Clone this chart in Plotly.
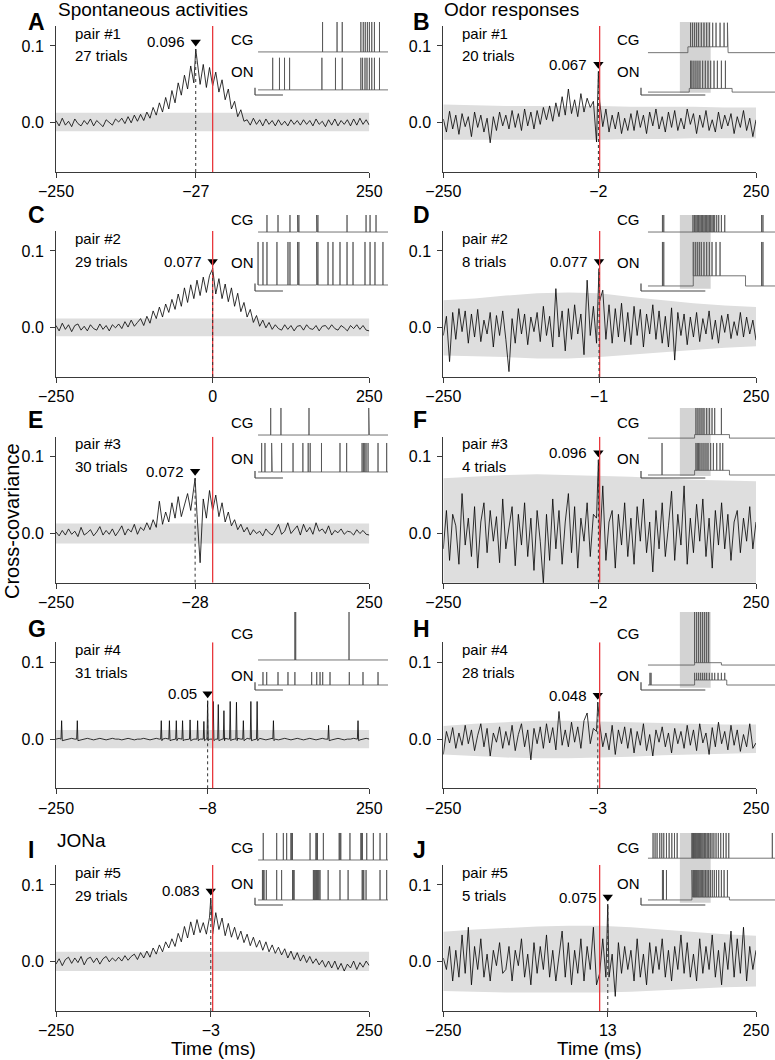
import plotly.graph_objects as go

W, H = 775, 1060
FONT = "Liberation Sans, Arial, Helvetica, sans-serif"

# ---------------- data ----------------
LAGS = list(range(-250, 251, 5))          # lag grid (ms)
BAND_LAGS = [-250, -200, -150, -100, -50, 0, 50, 100, 150, 200, 250]

LETTERS = ["A", "B", "C", "D", "E", "F", "G", "H", "I", "J"]
PAIRS = ["pair #1", "pair #1", "pair #2", "pair #2", "pair #3", "pair #3",
         "pair #4", "pair #4", "pair #5", "pair #5"]
TRIALS = ["27 trials", "20 trials", "29 trials", "8 trials", "30 trials",
          "4 trials", "31 trials", "28 trials", "29 trials", "5 trials"]
PEAK_LAG = [-27, -2, 0, -1, -28, -2, -8, -3, -3, 13]
PEAK_VAL = [0.096, 0.067, 0.077, 0.077, 0.072, 0.096, 0.05, 0.048, 0.083, 0.075]
PEAK_TXT = ["0.096", "0.067", "0.077", "0.077", "0.072", "0.096", "0.05", "0.048", "0.083", "0.075"]

# cross-covariance values (x 0.001) on LAGS
CC_A = [3, -4, 6, -3, 2, -5, 5, -1, -4, 3, -2, 5, -4, 3, -1, -5, 4, 0, -3, 5,
        1, 6, -1, 8, 0, 10, 2, 11, 3, 14,
        6, 20, 10, 26, 14, 33, 18, 42, 26, 52,
        36, 62, 44, 74, 52,
        82, 50, 76, 46, 72, 48,
        66, 40, 56, 30, 44, 18, 28, 8, 17, 2,
        4, -3, 6, -2, 4, -4, 5, -2, 3, -4, 4, -3, 2, -4, 4, -2, 3, -3, 4, -2,
        3, -4, 5, -2, 2, -5, 4, -3, 5, -4, 3, -2, 4, -4, 5, -3, 6, -2, 4, -3]
CC_B = [5, -12, 15, -8, 10, -15, 12, -5, 8, -18, 14, -6, 10, -12, 6, -26, 8, -10, 14, -4,
        10, -8, 16, -6, 12, -10, 18, -4, 14, -8,
        16, -2, 20, 4, 22, 2, 26, 8, 34, 10,
        44, 12, 30, 8, 38, 14, 32, 20, 28, -25,
        28, -5, 18, -12, 10, -8, 14, -14, 6, -10,
        12, -10, 16, -6, 10, -14, 14, -4, 18, -8, 8, -12, 14, -6, 16, -10, 6, -8, 18, -2,
        12, -14, 10, -6, 16, -10, 4, -12, 14, -8, 10, -4, 12, -14, 8, -6, 16, -10, 6, -18, 4]
CC_C = [3, -4, 6, -2, 4, -5, 3, 5, -3, 2, -4, 4, -1, -3, 5, -2, 3, -4, 4, 0,
        5, -1, 8, 1, 10, 2, 7, 12, 3, 15,
        6, 22, 12, 27, 14, 31, 20, 37, 24, 44,
        28, 52, 33, 56, 38, 62, 42, 66, 46, 68,
        77,
        44, 64, 38, 57, 34, 52, 28, 45, 21, 33,
        14, 24, 7, 16, 2, 10, 0, 7, -2, 4,
        -1, -3, 4, -2, 3, -4, 2, 3, -3, 4, -1, -2, 3, -4, 2, 3, -2, 4, -1, -3,
        3, 0, -4, 3, -1, 4, -2, 3, -3, -4]
CC_D = [-10, 15, -44, 20, -15, 25, -5, 22, -20, 18, -12, 24, -18, 10, -8, 20, -25, 16, -10, 22,
        -15, -57, 12, -20, 25, -8, 18, -22, 14, -5,
        20, -18, 28, -10, 15, -25, 51, -12, 22, -30,
        25, -15, 30, -8, 18, -35, 62, -10, 28, -20,
        35, 49, -15, 30, -20, 25, -12, 32, -18, 20,
        -22, 28, -10, 24, -25, 18, -8, 30, -15, 22,
        -20, 15, -25, 26, -42, 20, -10, 18, -22, 14,
        -12, 20, -18, 12, -8, 22, -15, 10, -20, 16, -6, 18, -14, 8, -10, 20, -12, 14, -8, 10, -16]
CC_E = [2, -3, 4, -2, 6, -1, 3, -4, 8, -2, 1, 5, -3, 2, 9, -2, 4, -1, 6, -3,
        3, 10, -2, 6, 2, 12, -1, 8, 4, 14,
        5, 18, 8, 42, 12, 28, 15, 40, 20, 48,
        22, 38, 52, 30, 66, 25, -38, 45, 20, 56,
        30, 50, 22, 40, 15, 28, 10, 18, 5, 12,
        2, 8, -2, 5, 0, 3, -3, 6, 1, -2, 4, 12, -1, 3, 14, 0, 5, 10, -2, 12,
        2, 8, -1, 14, 3, 6, 0, 10, -2, 4, 1, 6, -1, 3, 2, -2, 5, 0, 4, -1, -2]
CC_F = [-20, 30, -35, 25, 10, -40, 52, -15, 20, -30, 35, -45, 15, 40, -25, 30, -10, 22, -38, 45,
        -20, 10, 35, -42, 25, -15, 40, -30, 20, -48,
        30, -10, -65, 25, -35, 45, -20, 30, -40, 15,
        52, -25, 35, -45, 20, -10, 40, -30, 25, 20,
        -20, 62, -35, 15, 30, -45, 25, -15, 40, -30,
        20, -40, 35, -10, 45, -25, 15, -50, 30, -20,
        40, -30, 10, 55, -35, 25, -15, 62, -40, 20,
        -25, 38, -10, 45, -30, 20, -45, 30, -15, 40, -20, 25, -35, 15, 30, -25, 20, -10, 35, -20, 15]
# panel G: near-flat baseline on LAGS plus sharp peaks listed separately
CC_G = [0, 1, 0, -1, 0, 1, 0, 0, -1, 0, 1, 0, -1, 0, 1, 0, -1, 0, 1, 0,
        0, -1, 0, 1, 0, -1, 0, 0, 1, 0,
        -1, 0, 1, 0, 0, 1, 0, -1, 0, 1,
        0, -1, 0, 1, 0, -1, 0, 1, 0, 0,
        1, 0, -1, 0, 1, 0, -1, 0, 1, 0,
        0, 1, 0, -1, 0, 1, 0, -1, 0, 1,
        0, -1, 0, 1, 0, -1, 0, 1, 0, -1,
        0, 1, 0, -1, 0, 1, 0, 0, -1, 0, 1, 0, -1, 0, 0, 1, 0, -1, 0, 1, 0]
G_PEAK_LAGS = [-241, -216, -82, -69, -58, -48, -36, -24, -14, 1, 9, 18, 28, 38, 49, 61, 71, 97, 185, 232]
G_PEAK_VALS = [24, 24, 24, 24, 24, 24, 25, 24, 23, 49, 45, 37, 49, 48, 24, 49, 49, 24, 18, 24]
CC_H = [-20, 10, -5, 15, -12, 8, -8, 18, -6, 12, -15, 5, 20, -10, 14, -22, 8, -4, 16, -12,
        10, -8, 18, -15, 6, 20, -10, 12, -27, 14,
        -6, 16, -12, 20, -5, 15, -14, 36, -8, 12,
        -10, 22, -4, 16, -12, 24, 34, -6, 14, 10,
        20, -10, 8, -14, 18, -20, 12, -6, 16, -12,
        14, -18, 10, -8, 20, -15, 6, -22, 12, -4,
        16, -10, 8, -18, 14, -6, 10, -12, 18, -8,
        12, -15, 20, -5, 8, -20, 15, -10, 22, -6, 10, -14, 18, -8, 12, -16, 6, -10, 20, -12, -5]
CC_I = [-3, 4, -5, 3, 6, -2, 5, -1, 7, -4, 4, 6, -1, 5, -3, 4, 7, 0, 5, 1,
        6, 1, 8, 2, 7, 10, 3, 12, 5, 14,
        6, 18, 10, 22, 13, 26, 18, 30, 20, 37,
        26, 46, 31, 52, 35, 55, 38, 51, 36, 58,
        36, 64, 42, 57, 34, 50, 32, 45, 29, 40,
        25, 36, 21, 32, 19, 28, 15, 26, 13, 22,
        11, 19, 9, 17, 5, 14, 3, 12, 1, 9,
        -1, 7, -2, 4, -4, 2, -7, 1, -8, 1, -10, -2, -12, -3, -8, 1, -10, -1, -7, 1, -5]
CC_J = [5, -10, 20, -25, 15, -20, 35, -15, 45, -30, 20, -10, 30, -20, 10, -25, 15, -5, 25, -15,
        -10, 20, -25, 15, -5, 30, -20, 10, -30, 25,
        -15, 20, -10, 35, -20, 15, -25, 10, 40, -20,
        25, -30, 15, -15, 30, -25, 20, -10, 45, -30,
        -15, 30, -20,
        -20, 10, -45, 25, -15, 20, -10,
        15, -25, 30, -20, 10, -30, 25, -15, 20, -10,
        30, -20, 15, -25, 20, -10, 35, -15, 25, -20,
        10, -25, 30, -15, 20, -10, 35, -20, 15, -30, 25, -10, 40, -20, 30, -15, 45, -25, 20, -10, 15]

# shuffle band (x 0.001) on BAND_LAGS
BU_A = [13, 13, 13, 13, 13, 13, 13, 13, 13, 13, 13]
BL_A = [-11, -11, -11, -11, -11, -11, -11, -11, -11, -11, -11]
BU_B = [24, 23, 22, 22, 22, 22, 21, 21, 21, 20, 20]
BL_B = [-22, -22, -22, -22, -22, -22, -21, -21, -20, -20, -20]
BU_C = [12, 12, 12, 12, 12, 12, 12, 12, 12, 12, 12]
BL_C = [-11, -11, -11, -11, -11, -11, -11, -11, -11, -11, -11]
BU_D = [36, 38, 42, 45, 46, 45, 40, 36, 32, 29, 27]
BL_D = [-36, -37, -38, -40, -40, -38, -35, -32, -29, -26, -24]
BU_E = [13, 13, 13, 13, 13, 13, 13, 13, 13, 13, 13]
BL_E = [-13, -13, -13, -13, -13, -13, -13, -13, -13, -13, -13]
BU_F = [72, 74, 76, 77, 76, 75, 74, 72, 70, 69, 68]
BL_F = [-72, -74, -76, -77, -76, -75, -74, -72, -70, -69, -68]
BU_G = [12, 12, 12, 12, 12, 12, 12, 12, 12, 12, 12]
BL_G = [-12, -12, -12, -12, -12, -12, -12, -12, -12, -12, -12]
BU_H = [17, 20, 22, 24, 24, 23, 22, 21, 20, 19, 19]
BL_H = [-20, -22, -24, -25, -25, -24, -23, -21, -20, -19, -18]
BU_I = [13, 13, 13, 13, 13, 13, 13, 13, 13, 13, 13]
BL_I = [-12, -12, -12, -12, -12, -12, -12, -12, -12, -12, -12]
BU_J = [39, 42, 44, 46, 47, 47, 45, 42, 39, 36, 34]
BL_J = [-38, -39, -40, -40, -40, -40, -39, -37, -35, -33, -32]

# inset example traces: spike times (% of trace width)
CG_A = [50.8, 61.7, 65.6, 79.6, 81.4, 82.9, 84.5, 86.0, 87.8, 89.8, 93.6]
ON_A = [13.3, 18.4, 22.2, 26.0, 50.3, 60.5, 65.6, 79.6, 80.9, 82.7, 84.2, 86.0, 87.8, 89.8, 93.6]
CG_B = [37.0, 38.5, 40.0, 41.5, 43.0, 45.0, 47.0, 49.0, 51.0, 53.5, 56.0, 59.0, 62.0, 64.5]
ON_B = [37.0, 38.0, 39.5, 41.0, 42.5, 44.0, 46.0, 48.0, 50.0, 52.0, 54.5, 57.0, 60.0, 63.0]
CG_C = [9.0, 17.3, 26.3, 32.0, 32.5, 33.0, 46.3, 46.8, 47.3, 69.2, 83.5, 86.5, 91.0]
ON_C = [2.3, 6.0, 9.0, 16.5, 24.8, 26.3, 32.0, 32.5, 33.0, 46.3, 46.8, 47.3, 54.9, 58.6,
        63.9, 69.2, 73.7, 82.7, 86.5, 90.2, 96.2]
CG_D = [16.0, 17.0, 38.8, 40.0, 41.0, 42.0, 43.0, 44.0, 45.0, 46.0, 47.0, 48.0, 49.0, 50.0,
        51.0, 52.0, 53.0, 54.0, 55.0, 56.5, 58.0, 60.0, 62.5, 90.0, 91.0]
ON_D = [16.0, 17.0, 39.0, 40.5, 42.0, 43.5, 45.0, 47.0, 49.0, 51.0, 53.0, 56.0, 59.0, 90.0, 91.0]
CG_E = [11.8, 12.3, 19.5, 40.6, 85.5, 86.0]
ON_E = [5.0, 7.5, 12.5, 13.0, 20.0, 28.6, 36.0, 40.0, 41.5, 50.0, 63.9, 68.9, 80.5, 81.5,
        82.5, 83.5, 85.0, 92.5, 99.0]
CG_F = [41.0, 42.5, 44.0, 45.5, 47.0, 49.0, 51.0, 53.0, 55.0, 60.0]
ON_F = [15.7, 41.0, 42.0, 43.0, 44.0, 45.5, 47.0, 48.5, 50.0, 52.0, 54.0, 56.5, 59.0, 61.0]
CG_G = [30.0, 30.3, 30.6, 70.7]
ON_G = [6.0, 8.8, 17.3, 24.8, 30.0, 42.6, 46.4, 48.9, 50.9, 56.4, 70.9, 81.2, 92.5]
CG_H = [40.0, 41.5, 43.0, 44.5, 46.0, 47.5, 49.0, 50.5]
ON_H = [6.7, 7.5, 40.0, 41.5, 43.0, 44.5, 46.0, 47.5, 49.0, 51.0, 53.0, 55.0, 57.5, 60.0, 62.5]
CG_I = [6.2, 16.3, 21.3, 23.8, 27.0, 27.6, 28.2, 41.4, 45.8, 46.4, 47.0, 51.4, 63.3, 63.9,
        64.5, 71.4, 79.6, 80.2, 80.8, 84.0, 89.0, 94.0, 99.0]
ON_I = [5.6, 6.2, 6.8, 8.5, 16.3, 20.0, 28.2, 28.8, 29.4, 43.9, 44.5, 45.1, 45.7, 46.3, 46.9,
        47.5, 48.1, 48.9, 55.0, 63.9, 70.0, 80.6, 81.2, 81.8, 83.5, 94.0, 99.0]
CG_J = [9.0, 10.5, 12.0, 14.0, 15.5, 17.0, 19.0, 21.0, 23.0, 25.0, 27.0, 38.0, 38.6, 39.2,
        39.8, 40.5, 41.2, 42.0, 42.8, 43.6, 44.5, 45.4, 46.3, 47.3, 48.3, 49.4, 50.5, 51.7,
        53.0, 54.4, 56.0, 57.7, 59.5, 61.5, 63.5, 65.5, 98.0]
ON_J = [16.0, 16.8, 19.0, 38.0, 38.5, 39.0, 39.6, 40.2, 40.9, 41.6, 42.4, 43.2, 44.1, 45.0,
        46.0, 47.0, 48.1, 49.3, 50.5, 51.8, 53.2, 54.7, 56.3, 58.0, 60.0, 62.0, 64.5]

# membrane levels of the example traces (% of inset height)
CG_BASE = [59, 58, 77.6, 77.6, 61.4, 57, 38.5, 32, 62.5, 65]
CG_PEAK = [100, 99, 100, 100, 100, 100, 100, 100, 100, 100]
ON_BASE = [7, 4, 7.9, 6.6, 8.6, 4.3, 6.4, 6.4, 7, 7]
ON_PEAK = [51, 47, 64.5, 64.5, 50, 50, 23, 22, 48.6, 48.6]
CG_DEPOL = [None, (35, 65, 66), None, None, None, (40, 66, 62), None, (40, 60, 35), None, None]
ON_DEPOL = [None, (36, 68, 9), None, (39, 78, 20), None, (40, 66, 11), None, (40, 64, 12.8),
            None, (38, 66, 11)]
ODOR = [None, (29, 52), None, (29, 52), None, (29, 52), None, (29, 52), None, (29, 52)]

CC = [CC_A, CC_B, CC_C, CC_D, CC_E, CC_F, CC_G, CC_H, CC_I, CC_J]
BU = [BU_A, BU_B, BU_C, BU_D, BU_E, BU_F, BU_G, BU_H, BU_I, BU_J]
BL = [BL_A, BL_B, BL_C, BL_D, BL_E, BL_F, BL_G, BL_H, BL_I, BL_J]
CGS = [CG_A, CG_B, CG_C, CG_D, CG_E, CG_F, CG_G, CG_H, CG_I, CG_J]
ONS = [ON_A, ON_B, ON_C, ON_D, ON_E, ON_F, ON_G, ON_H, ON_I, ON_J]

# ---------------- layout geometry (pixels) ----------------
COL_X = [(56, 369.3), (443.3, 756)]
ROW_T = [46, 251, 456.7, 662.3, 885]           # y of the 0.1 tick
YMIN, YMAX = -0.064, 0.126
INSET_X = [(255, 388), (641, 775)]
INSET_Y = [(22, 95), (215, 291), (408, 478), (612, 690), (833, 905)]
LABEL_Y = [(40, 72), (220, 262), (422, 458), (633, 675), (847, 883)]
LETTER_Y = [22, 215, 420, 629, 850]
TRACE_START = [2.3, 5.2]
BAR_LEN = [21, 48]


def px(x):
    return x / W


def py(y):
    return 1 - y / H


def fmt_lag(v):
    return ("\u2212" + str(-v)) if v < 0 else str(v)


def spike_xy(spikes, base, peak, t0, t1, depol):
    events = [(t, "s") for t in spikes]
    if depol:
        events += [(depol[0], "a_on"), (depol[1], "b_off")]
    events.sort()
    xs, ys = [t0], [base]
    level = base
    for t, kind in events:
        if t < t0:
            continue
        if kind == "a_on":
            xs += [t, t]; ys += [level, depol[2]]; level = depol[2]
        elif kind == "b_off":
            xs += [t, t]; ys += [level, base]; level = base
        else:
            xs += [t, t, t]; ys += [level, peak, level]
    xs.append(t1); ys.append(level)
    return xs, ys


fig = go.Figure()
layout = dict(width=W, height=H,
              margin=dict(l=0, r=0, t=0, b=0, pad=0, autoexpand=False), autosize=False,
              paper_bgcolor="white", plot_bgcolor="rgba(0,0,0,0)", showlegend=False,
              font=dict(family=FONT, size=15, color="black"))
shapes, annots = [], []
AXC = "#3a3a3a"
RED = "#e8383d"

for i in range(10):
    row, col = divmod(i, 2)
    n = i + 1
    xa, ya = f"x{n}", f"y{n}"
    top, bot = ROW_T[row] - 20, ROW_T[row] + 126
    x0p, x1p = COL_X[col]

    layout[f"xaxis{n}"] = dict(
        domain=[px(x0p), px(x1p)], range=[-250, 250], anchor=ya,
        tickvals=[-250, PEAK_LAG[i], 250],
        ticktext=[fmt_lag(-250), fmt_lag(PEAK_LAG[i]), "250"],
        ticks="outside", ticklen=5, tickwidth=1, tickcolor=AXC, automargin=False,
        ticklabelstandoff=0,
        showline=True, linecolor=AXC, linewidth=1, showgrid=False, zeroline=False,
        tickfont=dict(size=16, family=FONT, color="black"), fixedrange=True)
    layout[f"yaxis{n}"] = dict(
        domain=[py(bot), py(top)], range=[YMIN, YMAX], anchor=xa,
        tickvals=[0, 0.1], ticktext=["0.0", "0.1"], automargin=False,
        ticklabelstandoff=3,
        ticks="outside", ticklen=5, tickwidth=1, tickcolor=AXC,
        showline=True, linecolor=AXC, linewidth=1, showgrid=False, zeroline=False,
        tickfont=dict(size=16, family=FONT, color="black"), fixedrange=True)

    # shuffle band
    bx = BAND_LAGS + BAND_LAGS[::-1]
    by = [v / 1000 for v in BU[i]] + [v / 1000 for v in BL[i][::-1]]
    fig.add_trace(go.Scatter(x=bx, y=by, xaxis=xa, yaxis=ya, fill="toself",
                             fillcolor="#dedede", line=dict(width=0), mode="lines",
                             hoverinfo="skip"))

    # cross-covariance
    pts = {lag: v / 1000 for lag, v in zip(LAGS, CC[i])}
    if LETTERS[i] == "G":
        for lg, vv in zip(G_PEAK_LAGS, G_PEAK_VALS):
            pts[lg - 1] = 0.0
            pts[lg] = vv / 1000
            pts[lg + 1] = -0.002
        pts[PEAK_LAG[i] - 1] = 0.0
        pts[PEAK_LAG[i] + 1] = -0.002
    pts[PEAK_LAG[i]] = PEAK_VAL[i]
    xs = sorted(pts)
    fig.add_trace(go.Scatter(x=xs, y=[pts[k] for k in xs], xaxis=xa, yaxis=ya,
                             mode="lines", line=dict(color="black", width=0.8)))

    # zero-lag red line and peak dotted line
    shapes.append(dict(type="line", xref=xa, yref=ya, x0=0, x1=0, y0=YMIN, y1=YMAX,
                       line=dict(color=RED, width=1.3), layer="above"))
    shapes.append(dict(type="line", xref=xa, yref=ya, x0=PEAK_LAG[i], x1=PEAK_LAG[i],
                       y0=YMIN, y1=PEAK_VAL[i], line=dict(color="#333333", width=1, dash="dot"),
                       layer="above"))

    # peak marker and label
    fig.add_trace(go.Scatter(x=[PEAK_LAG[i]], y=[PEAK_VAL[i] + 0.0092], xaxis=xa, yaxis=ya,
                             mode="markers", cliponaxis=False,
                             marker=dict(symbol="triangle-down", size=9, color="black")))
    annots.append(dict(xref=xa, yref=ya, x=PEAK_LAG[i], y=PEAK_VAL[i] + 0.0092,
                       text=PEAK_TXT[i], showarrow=False, xanchor="right", yanchor="middle",
                       xshift=-9, font=dict(size=15, family=FONT, color="black")))

    # pair / trials text
    tx = x0p + 17
    annots.append(dict(xref="paper", yref="paper", x=px(tx), y=py(ROW_T[row] - 13),
                       text=PAIRS[i], showarrow=False, xanchor="left", yanchor="middle",
                       font=dict(size=15, family=FONT)))
    annots.append(dict(xref="paper", yref="paper", x=px(tx), y=py(ROW_T[row] + 10),
                       text=TRIALS[i], showarrow=False, xanchor="left", yanchor="middle",
                       font=dict(size=15, family=FONT)))

    # panel letter
    annots.append(dict(xref="paper", yref="paper", x=px(26 if col == 0 else 411),
                       y=py(LETTER_Y[row]), text=f"<b>{LETTERS[i]}</b>", showarrow=False,
                       xanchor="left", yanchor="middle", font=dict(size=23, family=FONT)))

    # ---------- inset ----------
    m = n + 10
    ixa, iya = f"x{m}", f"y{m}"
    bx0, bx1 = INSET_X[col]
    by0, by1 = INSET_Y[row]
    ux = (bx1 - bx0) / 100.0
    uy = (by1 - by0) / 100.0
    dx0 = bx0 - 3 * ux
    dx1 = min(W, bx1 + 3 * ux)
    dy0 = by0 - 6 * uy
    dy1 = by1 + 6 * uy
    layout[f"xaxis{m}"] = dict(domain=[px(dx0), px(dx1)], range=[-3, (dx1 - bx0) / ux],
                               anchor=iya, visible=False, fixedrange=True)
    layout[f"yaxis{m}"] = dict(domain=[py(dy1), py(dy0)], range=[-6, 106],
                               anchor=ixa, visible=False, fixedrange=True)
    if ODOR[i]:
        shapes.append(dict(type="rect", xref=ixa, yref=iya, x0=ODOR[i][0], x1=ODOR[i][1],
                           y0=3, y1=100, fillcolor="#d3d3d3", line=dict(width=0),
                           layer="below"))
    t0 = TRACE_START[col]
    for spikes, base, peak, dep in ((CGS[i], CG_BASE[i], CG_PEAK[i], CG_DEPOL[i]),
                                    (ONS[i], ON_BASE[i], ON_PEAK[i], ON_DEPOL[i])):
        sx, sy = spike_xy(spikes, base, peak, t0, 100, dep)
        fig.add_trace(go.Scatter(x=sx, y=sy, xaxis=ixa, yaxis=iya, mode="lines",
                                 line=dict(color="#505050", width=0.8), hoverinfo="skip"))
    # scale bar
    shapes.append(dict(type="line", xref=ixa, yref=iya, x0=0, x1=BAR_LEN[col], y0=0, y1=0,
                       line=dict(color="#444444", width=1.2)))
    shapes.append(dict(type="line", xref=ixa, yref=iya, x0=0, x1=0, y0=0, y1=10,
                       line=dict(color="#444444", width=1.2)))
    for lbl, ly in zip(("CG", "ON"), LABEL_Y[row]):
        annots.append(dict(xref="paper", yref="paper", x=px(bx0 + 1), y=py(ly), text=lbl,
                           showarrow=False, xanchor="right", yanchor="middle",
                           font=dict(size=15, family=FONT)))

# titles
annots.append(dict(xref="paper", yref="paper", x=px(56), y=py(9), text="Spontaneous activities",
                   showarrow=False, xanchor="left", yanchor="middle", font=dict(size=19, family=FONT)))
annots.append(dict(xref="paper", yref="paper", x=px(442), y=py(9), text="Odor responses",
                   showarrow=False, xanchor="left", yanchor="middle", font=dict(size=19, family=FONT)))
annots.append(dict(xref="paper", yref="paper", x=px(55), y=py(840), text="JONa",
                   showarrow=False, xanchor="left", yanchor="middle", font=dict(size=19, family=FONT)))
annots.append(dict(xref="paper", yref="paper", x=px(12), y=py(521), text="Cross-covariance",
                   textangle=-90, showarrow=False, xanchor="center", yanchor="middle",
                   font=dict(size=20, family=FONT)))
for cx in (213, 599):
    annots.append(dict(xref="paper", yref="paper", x=px(cx), y=py(1048), text="Time (ms)",
                       showarrow=False, xanchor="center", yanchor="middle",
                       font=dict(size=19, family=FONT)))

layout["shapes"] = shapes
layout["annotations"] = annots
fig.update_layout(**layout)
fig.write_html("out.html", config={"displayModeBar": False},
               post_script="document.body.style.margin='0px';")
